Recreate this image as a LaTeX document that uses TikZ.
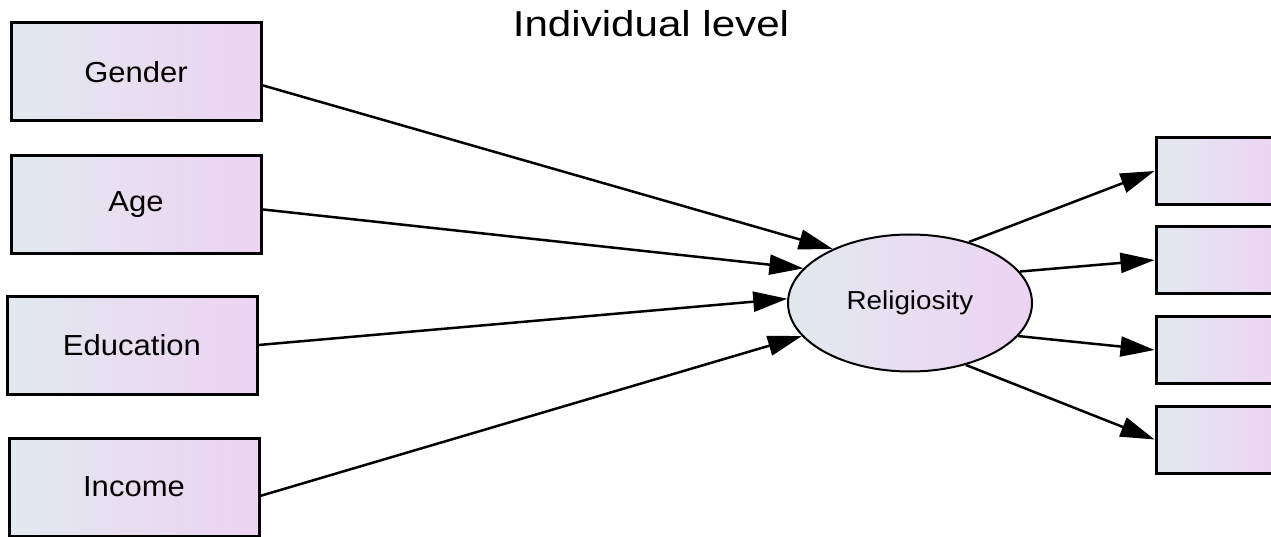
\documentclass[tikz,border=0pt]{standalone}
\usepackage{fontspec}
\setmainfont{Liberation Sans}
\usetikzlibrary{arrows.meta,shapes.geometric}
\definecolor{gradL}{RGB}{226,233,238}
\definecolor{gradR}{RGB}{237,211,243}
\tikzset{
  varbox/.style={draw=black, line width=3pt, left color=gradL, right color=gradR,
    minimum width=250pt, minimum height=98pt, inner sep=0pt, rectangle,
    font=\fontsize{29}{34}\selectfont},
  indbox/.style={draw=black, line width=3pt, left color=gradL, right color=gradR,
    minimum width=130pt, minimum height=67pt, inner sep=0pt, rectangle},
  latent/.style={draw=black, line width=2pt, ellipse, left color=gradL, right color=gradR,
    minimum width=244pt, minimum height=137pt, inner sep=0pt,
    font=\fontsize{26}{30}\selectfont},
  path/.style={draw=black, line width=2.5pt, -{Triangle[length=34pt,width=20pt]}}
}
\newcommand{\wlab}[2]{\scalebox{#1}[1]{#2}}
\begin{document}
\begin{tikzpicture}[x=1pt,y=-1pt]
\useasboundingbox (0,0) rectangle (1271,537);
\clip (0,0) rectangle (1271,537);
\fill[white] (0,0) rectangle (1271,537);

\node[anchor=base, font=\fontsize{36}{42}\selectfont] (title) at (651,37) {\wlab{1.17}{Individual level}};

\node[varbox] (gender) at (136,72) {\wlab{1.07}{Gender}};
\node[varbox] (age) at (136,205) {\wlab{1.07}{Age}};
\node[varbox] (edu) at (132,345) {\wlab{1.07}{Education}};
\node[varbox] (income) at (134,487) {\wlab{1.07}{Income}};

\node[latent] (rel) at (910,303) {\wlab{1.07}{Religiosity}};

\node[indbox] (i1) at (1221,171) {};
\node[indbox] (i2) at (1221,260) {};
\node[indbox] (i3) at (1221,350) {};
\node[indbox] (i4) at (1221,439.5) {};

\draw[path] (gender.-6.8) -- (rel.145.5);
\draw[path] (age.-2.3) -- (rel.162.9);
\draw[path] (edu.east) -- (rel.178.6);
\draw[path] (income.-4.1) -- (rel.197.2);

\draw[path] (rel.46.4) -- (i1.west);
\draw[path] (rel.16) -- (i2.west);
\draw[path] (rel.-17.5) -- (i3.west);
\draw[path] (rel.-48.3) -- (i4.west);
\end{tikzpicture}
\end{document}
